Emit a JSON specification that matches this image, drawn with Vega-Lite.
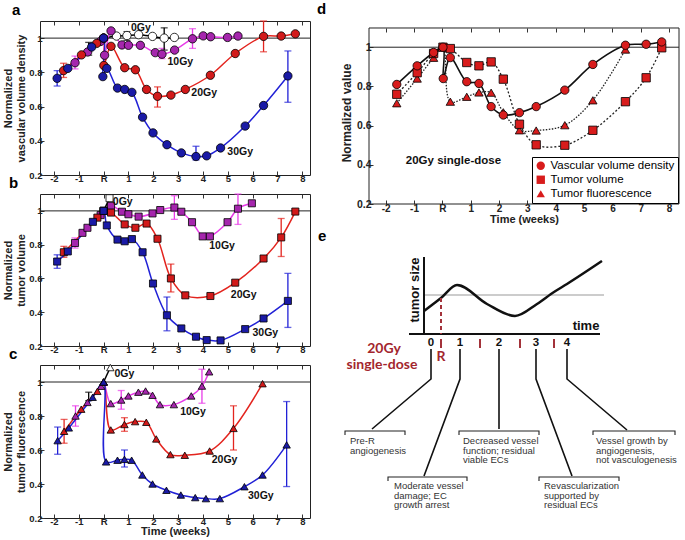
{
  "$schema": "https://vega.github.io/schema/vega-lite/v6.json",
  "padding": {"left": 2, "top": 2, "right": 0, "bottom": 0},
  "background": "white",
  "config": {
    "view": {"stroke": "#222", "strokeWidth": 1},
    "font": "Liberation Sans",
    "axis": {"labelFont": "Liberation Sans", "labelFontWeight": "bold", "labelFontSize": 9.5, "labelColor": "#222", "titleFont": "Liberation Sans", "titleFontWeight": "bold", "titleFontSize": 11, "titleColor": "#222", "tickColor": "#333", "grid": false, "domain": false, "tickSize": -4, "labelPadding": 2},
    "title": {"font": "Liberation Sans", "fontSize": 15, "fontWeight": "bold", "anchor": "start", "frame": "group", "color": "#000", "baseline": "alphabetic"}
  },
  "datasets": {
    "L": [
      {"p":"a","s":"0Gy","o":1,"x":0,"y":1.0},{"p":"a","s":"0Gy","o":2,"x":0.52,"y":1.012},{"p":"a","s":"0Gy","o":3,"x":0.94,"y":1.015},{"p":"a","s":"0Gy","o":4,"x":1.41,"y":1.02},{"p":"a","s":"0Gy","o":5,"x":1.97,"y":1.01},{"p":"a","s":"0Gy","o":6,"x":2.44,"y":1.0},{"p":"a","s":"0Gy","o":7,"x":2.85,"y":1.004},
      {"p":"a","s":"10Gy","o":1,"x":-1.15,"y":0.856},{"p":"a","s":"10Gy","o":2,"x":-0.64,"y":0.919},{"p":"a","s":"10Gy","o":3,"x":-0.13,"y":0.98},{"p":"a","s":"10Gy","o":4,"x":0,"y":1.0},{"p":"a","s":"10Gy","o":5,"x":0.04,"y":0.9},{"p":"a","s":"10Gy","o":6,"x":0.3,"y":1.042},{"p":"a","s":"10Gy","o":7,"x":0.74,"y":0.96},{"p":"a","s":"10Gy","o":8,"x":1.0,"y":0.958},{"p":"a","s":"10Gy","o":9,"x":1.48,"y":0.958},{"p":"a","s":"10Gy","o":10,"x":2.08,"y":0.915},{"p":"a","s":"10Gy","o":11,"x":2.35,"y":0.906},{"p":"a","s":"10Gy","o":12,"x":2.86,"y":0.93},{"p":"a","s":"10Gy","o":13,"x":3.58,"y":0.996},{"p":"a","s":"10Gy","o":14,"x":4.01,"y":1.013},{"p":"a","s":"10Gy","o":15,"x":4.31,"y":1.008},{"p":"a","s":"10Gy","o":16,"x":4.99,"y":1.004},{"p":"a","s":"10Gy","o":17,"x":5.41,"y":1.012},
      {"p":"a","s":"20Gy","o":1,"x":-1.61,"y":0.81},{"p":"a","s":"20Gy","o":2,"x":-0.89,"y":0.902},{"p":"a","s":"20Gy","o":3,"x":-0.28,"y":0.969},{"p":"a","s":"20Gy","o":4,"x":0,"y":1.0},{"p":"a","s":"20Gy","o":5,"x":0.01,"y":0.84},{"p":"a","s":"20Gy","o":6,"x":0.3,"y":0.952},{"p":"a","s":"20Gy","o":7,"x":0.85,"y":0.827},{"p":"a","s":"20Gy","o":8,"x":1.28,"y":0.815},{"p":"a","s":"20Gy","o":9,"x":1.73,"y":0.7},{"p":"a","s":"20Gy","o":10,"x":2.17,"y":0.66},{"p":"a","s":"20Gy","o":11,"x":2.71,"y":0.667},{"p":"a","s":"20Gy","o":12,"x":3.29,"y":0.7},{"p":"a","s":"20Gy","o":13,"x":4.3,"y":0.783},{"p":"a","s":"20Gy","o":14,"x":5.3,"y":0.91},{"p":"a","s":"20Gy","o":15,"x":6.44,"y":1.01},{"p":"a","s":"20Gy","o":16,"x":7.15,"y":1.012},{"p":"a","s":"20Gy","o":17,"x":7.72,"y":1.025},
      {"p":"a","s":"30Gy","o":1,"x":-1.87,"y":0.765},{"p":"a","s":"30Gy","o":2,"x":-1.44,"y":0.823},{"p":"a","s":"30Gy","o":3,"x":-0.48,"y":0.948},{"p":"a","s":"30Gy","o":4,"x":0,"y":1.0},{"p":"a","s":"30Gy","o":5,"x":-0.03,"y":0.775},{"p":"a","s":"30Gy","o":6,"x":0.13,"y":0.823},{"p":"a","s":"30Gy","o":7,"x":0.56,"y":0.708},{"p":"a","s":"30Gy","o":8,"x":0.85,"y":0.7},{"p":"a","s":"30Gy","o":9,"x":1.14,"y":0.683},{"p":"a","s":"30Gy","o":10,"x":1.57,"y":0.538},{"p":"a","s":"30Gy","o":11,"x":1.99,"y":0.446},{"p":"a","s":"30Gy","o":12,"x":2.55,"y":0.377},{"p":"a","s":"30Gy","o":13,"x":3.13,"y":0.329},{"p":"a","s":"30Gy","o":14,"x":3.72,"y":0.308},{"p":"a","s":"30Gy","o":15,"x":4.15,"y":0.312},{"p":"a","s":"30Gy","o":16,"x":4.71,"y":0.358},{"p":"a","s":"30Gy","o":17,"x":5.7,"y":0.486},{"p":"a","s":"30Gy","o":18,"x":6.44,"y":0.606},{"p":"a","s":"30Gy","o":19,"x":7.42,"y":0.779},

      {"p":"b","s":"0Gy","o":1,"x":0,"y":1.0},{"p":"b","s":"0Gy","o":2,"x":0.24,"y":1.075},
      {"p":"b","s":"10Gy","o":1,"x":-1.15,"y":0.81},{"p":"b","s":"10Gy","o":2,"x":-0.85,"y":0.87},{"p":"b","s":"10Gy","o":3,"x":-0.65,"y":0.9},{"p":"b","s":"10Gy","o":4,"x":-0.12,"y":0.975},{"p":"b","s":"10Gy","o":5,"x":0,"y":1.0},{"p":"b","s":"10Gy","o":6,"x":0.3,"y":1.03},{"p":"b","s":"10Gy","o":7,"x":0.74,"y":0.995},{"p":"b","s":"10Gy","o":8,"x":1.0,"y":0.98},{"p":"b","s":"10Gy","o":9,"x":1.41,"y":0.966},{"p":"b","s":"10Gy","o":10,"x":1.97,"y":0.985},{"p":"b","s":"10Gy","o":11,"x":2.28,"y":1.005},{"p":"b","s":"10Gy","o":12,"x":2.85,"y":1.02},{"p":"b","s":"10Gy","o":13,"x":3.13,"y":0.995},{"p":"b","s":"10Gy","o":14,"x":3.56,"y":0.933},{"p":"b","s":"10Gy","o":15,"x":3.99,"y":0.849},{"p":"b","s":"10Gy","o":16,"x":4.28,"y":0.849},{"p":"b","s":"10Gy","o":17,"x":4.99,"y":0.933},{"p":"b","s":"10Gy","o":18,"x":5.41,"y":1.013},{"p":"b","s":"10Gy","o":19,"x":5.97,"y":1.045},
      {"p":"b","s":"20Gy","o":1,"x":-1.6,"y":0.755},{"p":"b","s":"20Gy","o":2,"x":-0.25,"y":0.96},{"p":"b","s":"20Gy","o":3,"x":0,"y":1.0},{"p":"b","s":"20Gy","o":4,"x":0.3,"y":0.99},{"p":"b","s":"20Gy","o":5,"x":0.85,"y":0.92},{"p":"b","s":"20Gy","o":6,"x":1.28,"y":0.9},{"p":"b","s":"20Gy","o":7,"x":1.73,"y":0.925},{"p":"b","s":"20Gy","o":8,"x":2.17,"y":0.835},{"p":"b","s":"20Gy","o":9,"x":2.71,"y":0.6},{"p":"b","s":"20Gy","o":10,"x":3.29,"y":0.5},{"p":"b","s":"20Gy","o":11,"x":4.3,"y":0.496},{"p":"b","s":"20Gy","o":12,"x":5.3,"y":0.575},{"p":"b","s":"20Gy","o":13,"x":6.44,"y":0.718},{"p":"b","s":"20Gy","o":14,"x":7.15,"y":0.843},{"p":"b","s":"20Gy","o":15,"x":7.72,"y":0.996},
      {"p":"b","s":"30Gy","o":1,"x":-1.87,"y":0.7},{"p":"b","s":"30Gy","o":2,"x":-1.44,"y":0.76},{"p":"b","s":"30Gy","o":3,"x":-0.43,"y":0.935},{"p":"b","s":"30Gy","o":4,"x":0,"y":1.0},{"p":"b","s":"30Gy","o":5,"x":0.13,"y":0.914},{"p":"b","s":"30Gy","o":6,"x":0.56,"y":0.83},{"p":"b","s":"30Gy","o":7,"x":0.85,"y":0.82},{"p":"b","s":"30Gy","o":8,"x":1.14,"y":0.833},{"p":"b","s":"30Gy","o":9,"x":1.57,"y":0.755},{"p":"b","s":"30Gy","o":10,"x":1.99,"y":0.57},{"p":"b","s":"30Gy","o":11,"x":2.55,"y":0.382},{"p":"b","s":"30Gy","o":12,"x":3.13,"y":0.304},{"p":"b","s":"30Gy","o":13,"x":3.72,"y":0.255},{"p":"b","s":"30Gy","o":14,"x":4.15,"y":0.235},{"p":"b","s":"30Gy","o":15,"x":4.71,"y":0.233},{"p":"b","s":"30Gy","o":16,"x":5.7,"y":0.3},{"p":"b","s":"30Gy","o":17,"x":6.44,"y":0.363},{"p":"b","s":"30Gy","o":18,"x":7.42,"y":0.467},

      {"p":"c","s":"0Gy","o":1,"x":0,"y":1.0},{"p":"c","s":"0Gy","o":2,"x":0.27,"y":1.085},
      {"p":"c","s":"10Gy","o":1,"x":-1.13,"y":0.8},{"p":"c","s":"10Gy","o":2,"x":-0.65,"y":0.88},{"p":"c","s":"10Gy","o":3,"x":-0.1,"y":0.975},{"p":"c","s":"10Gy","o":4,"x":0,"y":1.0},{"p":"c","s":"10Gy","o":5,"x":0.29,"y":0.873},{"p":"c","s":"10Gy","o":6,"x":0.71,"y":0.894},{"p":"c","s":"10Gy","o":7,"x":1.0,"y":0.918},{"p":"c","s":"10Gy","o":8,"x":1.4,"y":0.94},{"p":"c","s":"10Gy","o":9,"x":1.69,"y":0.947},{"p":"c","s":"10Gy","o":10,"x":1.97,"y":0.922},{"p":"c","s":"10Gy","o":11,"x":2.27,"y":0.867},{"p":"c","s":"10Gy","o":12,"x":2.83,"y":0.867},{"p":"c","s":"10Gy","o":13,"x":3.53,"y":0.918},{"p":"c","s":"10Gy","o":14,"x":3.96,"y":0.976},{"p":"c","s":"10Gy","o":15,"x":4.25,"y":1.06},
      {"p":"c","s":"20Gy","o":1,"x":-1.59,"y":0.71},{"p":"c","s":"20Gy","o":2,"x":-0.9,"y":0.84},{"p":"c","s":"20Gy","o":3,"x":-0.25,"y":0.945},{"p":"c","s":"20Gy","o":4,"x":0,"y":1.0},{"p":"c","s":"20Gy","o":5,"x":0.29,"y":0.718},{"p":"c","s":"20Gy","o":6,"x":0.84,"y":0.75},{"p":"c","s":"20Gy","o":7,"x":1.27,"y":0.767},{"p":"c","s":"20Gy","o":8,"x":1.72,"y":0.763},{"p":"c","s":"20Gy","o":9,"x":2.12,"y":0.665},{"p":"c","s":"20Gy","o":10,"x":2.69,"y":0.573},{"p":"c","s":"20Gy","o":11,"x":3.27,"y":0.569},{"p":"c","s":"20Gy","o":12,"x":4.27,"y":0.594},{"p":"c","s":"20Gy","o":13,"x":5.23,"y":0.727},{"p":"c","s":"20Gy","o":14,"x":6.4,"y":0.99},
      {"p":"c","s":"30Gy","o":1,"x":-1.85,"y":0.655},{"p":"c","s":"30Gy","o":2,"x":-1.4,"y":0.73},{"p":"c","s":"30Gy","o":3,"x":-0.44,"y":0.91},{"p":"c","s":"30Gy","o":4,"x":0,"y":1.0},{"p":"c","s":"30Gy","o":5,"x":0.1,"y":0.53},{"p":"c","s":"30Gy","o":6,"x":0.56,"y":0.54},{"p":"c","s":"30Gy","o":7,"x":0.84,"y":0.545},{"p":"c","s":"30Gy","o":8,"x":1.13,"y":0.54},{"p":"c","s":"30Gy","o":9,"x":1.56,"y":0.453},{"p":"c","s":"30Gy","o":10,"x":1.97,"y":0.4},{"p":"c","s":"30Gy","o":11,"x":2.53,"y":0.363},{"p":"c","s":"30Gy","o":12,"x":3.11,"y":0.335},{"p":"c","s":"30Gy","o":13,"x":3.69,"y":0.32},{"p":"c","s":"30Gy","o":14,"x":4.12,"y":0.314},{"p":"c","s":"30Gy","o":15,"x":4.68,"y":0.314},{"p":"c","s":"30Gy","o":16,"x":5.67,"y":0.384},{"p":"c","s":"30Gy","o":17,"x":6.4,"y":0.453},{"p":"c","s":"30Gy","o":18,"x":7.37,"y":0.63}
    ],
    "E": [
      {"p":"a","s":"0Gy","x":-0.6,"lo":0.9,"hi":0.975},{"p":"a","s":"0Gy","x":0.94,"lo":0.987,"hi":1.038},{"p":"a","s":"0Gy","x":2.44,"lo":0.93,"hi":1.06},
      {"p":"a","s":"10Gy","x":-1.15,"lo":0.82,"hi":0.895},{"p":"a","s":"10Gy","x":2.35,"lo":0.88,"hi":0.94},{"p":"a","s":"10Gy","x":3.58,"lo":0.94,"hi":1.055},
      {"p":"a","s":"20Gy","x":-1.61,"lo":0.77,"hi":0.853},{"p":"a","s":"20Gy","x":2.17,"lo":0.597,"hi":0.715},{"p":"a","s":"20Gy","x":6.44,"lo":0.92,"hi":1.1},
      {"p":"a","s":"30Gy","x":-1.87,"lo":0.72,"hi":0.81},{"p":"a","s":"30Gy","x":3.72,"lo":0.288,"hi":0.368},{"p":"a","s":"30Gy","x":7.42,"lo":0.625,"hi":0.925},
      {"p":"b","s":"10Gy","x":-1.15,"lo":0.78,"hi":0.84},{"p":"b","s":"10Gy","x":2.85,"lo":0.95,"hi":1.09},{"p":"b","s":"10Gy","x":5.41,"lo":0.92,"hi":1.1},
      {"p":"b","s":"20Gy","x":-1.6,"lo":0.725,"hi":0.79},{"p":"b","s":"20Gy","x":2.71,"lo":0.52,"hi":0.685},{"p":"b","s":"20Gy","x":7.15,"lo":0.73,"hi":0.955},
      {"p":"b","s":"30Gy","x":-1.87,"lo":0.66,"hi":0.74},{"p":"b","s":"30Gy","x":2.55,"lo":0.29,"hi":0.49},{"p":"b","s":"30Gy","x":7.42,"lo":0.31,"hi":0.63},
      {"p":"c","s":"0Gy","x":-0.6,"lo":0.89,"hi":0.94},
      {"p":"c","s":"10Gy","x":-1.13,"lo":0.74,"hi":0.86},{"p":"c","s":"10Gy","x":0.71,"lo":0.84,"hi":0.95},{"p":"c","s":"10Gy","x":3.96,"lo":0.875,"hi":1.075},
      {"p":"c","s":"20Gy","x":-1.59,"lo":0.64,"hi":0.78},{"p":"c","s":"20Gy","x":0.84,"lo":0.71,"hi":0.79},{"p":"c","s":"20Gy","x":5.23,"lo":0.6,"hi":0.86},
      {"p":"c","s":"30Gy","x":-1.85,"lo":0.575,"hi":0.735},{"p":"c","s":"30Gy","x":0.84,"lo":0.5,"hi":0.6},{"p":"c","s":"30Gy","x":7.37,"lo":0.385,"hi":0.885}
    ],
    "T": [
      {"p":"a","t":"0Gy","x":1.5,"y":1.058},{"p":"a","t":"10Gy","x":3.09,"y":0.862},{"p":"a","t":"20Gy","x":4.05,"y":0.679},{"p":"a","t":"30Gy","x":5.5,"y":0.333},
      {"p":"b","t":"0Gy","x":0.77,"y":1.05},{"p":"b","t":"10Gy","x":4.77,"y":0.794},{"p":"b","t":"20Gy","x":5.64,"y":0.502},{"p":"b","t":"30Gy","x":6.51,"y":0.275},
      {"p":"c","t":"0Gy","x":0.84,"y":1.05},{"p":"c","t":"10Gy","x":3.6,"y":0.824},{"p":"c","t":"20Gy","x":4.87,"y":0.54},{"p":"c","t":"30Gy","x":6.33,"y":0.33},
      {"p":"d","t":"20Gy single-dose","x":0.39,"y":0.417}
    ],
    "D": [
      {"s":"Tumor fluorescence","o":1,"x":-1.61,"y":0.714},{"s":"Tumor fluorescence","o":2,"x":-0.89,"y":0.84},{"s":"Tumor fluorescence","o":3,"x":-0.31,"y":0.946},{"s":"Tumor fluorescence","o":4,"x":0.02,"y":1.0},{"s":"Tumor fluorescence","o":5,"x":0.28,"y":0.722},{"s":"Tumor fluorescence","o":6,"x":0.86,"y":0.747},{"s":"Tumor fluorescence","o":7,"x":1.29,"y":0.769},{"s":"Tumor fluorescence","o":8,"x":1.72,"y":0.768},{"s":"Tumor fluorescence","o":9,"x":2.15,"y":0.668},{"s":"Tumor fluorescence","o":10,"x":2.72,"y":0.576},{"s":"Tumor fluorescence","o":11,"x":3.31,"y":0.575},{"s":"Tumor fluorescence","o":12,"x":4.32,"y":0.602},{"s":"Tumor fluorescence","o":13,"x":5.31,"y":0.729},{"s":"Tumor fluorescence","o":14,"x":6.46,"y":0.988},
      {"s":"Tumor volume","o":1,"x":-1.61,"y":0.76},{"s":"Tumor volume","o":2,"x":-0.89,"y":0.87},{"s":"Tumor volume","o":3,"x":-0.31,"y":0.968},{"s":"Tumor volume","o":4,"x":0.02,"y":1.0},{"s":"Tumor volume","o":5,"x":0.28,"y":0.993},{"s":"Tumor volume","o":6,"x":0.86,"y":0.922},{"s":"Tumor volume","o":7,"x":1.29,"y":0.905},{"s":"Tumor volume","o":8,"x":1.72,"y":0.925},{"s":"Tumor volume","o":9,"x":2.15,"y":0.837},{"s":"Tumor volume","o":10,"x":2.72,"y":0.607},{"s":"Tumor volume","o":11,"x":3.31,"y":0.502},{"s":"Tumor volume","o":12,"x":4.32,"y":0.5},{"s":"Tumor volume","o":13,"x":5.31,"y":0.576},{"s":"Tumor volume","o":14,"x":6.46,"y":0.722},{"s":"Tumor volume","o":15,"x":7.19,"y":0.844},{"s":"Tumor volume","o":16,"x":7.74,"y":0.997},
      {"s":"Vascular volume density","o":1,"x":-1.61,"y":0.81},{"s":"Vascular volume density","o":2,"x":-0.89,"y":0.905},{"s":"Vascular volume density","o":3,"x":-0.31,"y":0.973},{"s":"Vascular volume density","o":4,"x":0.02,"y":1.0},{"s":"Vascular volume density","o":5,"x":0.03,"y":0.84},{"s":"Vascular volume density","o":6,"x":0.28,"y":0.947},{"s":"Vascular volume density","o":7,"x":0.86,"y":0.824},{"s":"Vascular volume density","o":8,"x":1.29,"y":0.815},{"s":"Vascular volume density","o":9,"x":1.72,"y":0.697},{"s":"Vascular volume density","o":10,"x":2.15,"y":0.654},{"s":"Vascular volume density","o":11,"x":2.72,"y":0.666},{"s":"Vascular volume density","o":12,"x":3.31,"y":0.697},{"s":"Vascular volume density","o":13,"x":4.32,"y":0.781},{"s":"Vascular volume density","o":14,"x":5.31,"y":0.912},{"s":"Vascular volume density","o":15,"x":6.46,"y":1.01},{"s":"Vascular volume density","o":16,"x":7.19,"y":1.015},{"s":"Vascular volume density","o":17,"x":7.74,"y":1.027}
    ],
    "S": [
      {"k":"gray","g":"h","o":1,"x":87,"y":63},{"k":"gray","g":"h","o":2,"x":267,"y":63},
      {"k":"ax","g":"ya","o":1,"x":87,"y":25},{"k":"ax","g":"ya","o":2,"x":87,"y":102},
      {"k":"ax","g":"xa","o":1,"x":72,"y":102},{"k":"ax","g":"xa","o":2,"x":263,"y":102},
      {"k":"curve","g":"c","o":1,"x":87,"y":79},{"k":"curve","g":"c","o":2,"x":104,"y":66},{"k":"curve","g":"c","o":3,"x":120,"y":53},{"k":"curve","g":"c","o":4,"x":150,"y":72},{"k":"curve","g":"c","o":5,"x":178,"y":84},{"k":"curve","g":"c","o":6,"x":200,"y":72},{"k":"curve","g":"c","o":7,"x":217,"y":60},{"k":"curve","g":"c","o":8,"x":230,"y":52},{"k":"curve","g":"c","o":9,"x":265,"y":29},
      {"k":"rdash","g":"r","o":1,"x":104,"y":66},{"k":"rdash","g":"r","o":2,"x":104,"y":102},
      {"k":"rtick","g":"t1","o":1,"x":104,"y":107},{"k":"rtick","g":"t1","o":2,"x":104,"y":116},
      {"k":"rtick","g":"t2","o":1,"x":143,"y":107},{"k":"rtick","g":"t2","o":2,"x":143,"y":116},
      {"k":"rtick","g":"t3","o":1,"x":183,"y":107},{"k":"rtick","g":"t3","o":2,"x":183,"y":116},
      {"k":"rtick","g":"t4","o":1,"x":217,"y":107},{"k":"rtick","g":"t4","o":2,"x":217,"y":116},
      {"k":"call","g":"c0","o":1,"x":94,"y":117},{"k":"call","g":"c0","o":2,"x":94,"y":147},{"k":"call","g":"c0","o":3,"x":35,"y":197},
      {"k":"call","g":"c1","o":1,"x":123,"y":117},{"k":"call","g":"c1","o":2,"x":123,"y":147},{"k":"call","g":"c1","o":3,"x":87,"y":244},
      {"k":"call","g":"c2","o":1,"x":162,"y":117},{"k":"call","g":"c2","o":2,"x":162,"y":197},
      {"k":"call","g":"c3","o":1,"x":199,"y":117},{"k":"call","g":"c3","o":2,"x":199,"y":147},{"k":"call","g":"c3","o":3,"x":235,"y":244},
      {"k":"call","g":"c4","o":1,"x":230,"y":117},{"k":"call","g":"c4","o":2,"x":230,"y":147},{"k":"call","g":"c4","o":3,"x":290,"y":198},
      {"k":"brk","g":"b0","o":1,"x":8,"y":203},{"k":"brk","g":"b0","o":2,"x":8,"y":199},{"k":"brk","g":"b0","o":3,"x":68,"y":199},{"k":"brk","g":"b0","o":4,"x":68,"y":203},
      {"k":"brk","g":"b1","o":1,"x":51,"y":249},{"k":"brk","g":"b1","o":2,"x":51,"y":245},{"k":"brk","g":"b1","o":3,"x":130,"y":245},{"k":"brk","g":"b1","o":4,"x":130,"y":249},
      {"k":"brk","g":"b2","o":1,"x":122,"y":203},{"k":"brk","g":"b2","o":2,"x":122,"y":199},{"k":"brk","g":"b2","o":3,"x":202,"y":199},{"k":"brk","g":"b2","o":4,"x":202,"y":203},
      {"k":"brk","g":"b3","o":1,"x":202,"y":249},{"k":"brk","g":"b3","o":2,"x":202,"y":245},{"k":"brk","g":"b3","o":3,"x":282,"y":245},{"k":"brk","g":"b3","o":4,"x":282,"y":249},
      {"k":"brk","g":"b4","o":1,"x":256,"y":203},{"k":"brk","g":"b4","o":2,"x":256,"y":199},{"k":"brk","g":"b4","o":3,"x":338,"y":199},{"k":"brk","g":"b4","o":4,"x":338,"y":203}
    ],
    "ET": [
      {"k":"num","t":"0","x":94,"y":111},{"k":"num","t":"1","x":123,"y":111},{"k":"num","t":"2","x":162,"y":111},{"k":"num","t":"3","x":199,"y":111},{"k":"num","t":"4","x":230,"y":111},
      {"k":"red","t":"R","x":104,"y":125},{"k":"red","t":"20Gy","x":47,"y":117},{"k":"red","t":"single-dose","x":45,"y":133},
      {"k":"axl","t":"time","x":249,"y":94},
      {"k":"note","t":"Pre-R\nangiogenesis","x":13,"y":204},
      {"k":"note","t":"Moderate vessel\ndamage; EC\ngrowth arrest","x":57,"y":249},
      {"k":"note","t":"Decreased vessel\nfunction; residual\nviable ECs","x":126,"y":204},
      {"k":"note","t":"Revascularization\nsupported by\nresidual ECs","x":207,"y":249},
      {"k":"note","t":"Vessel growth by\nangiogenesis,\nnot vasculogenesis","x":259,"y":204},
      {"k":"lab","t":"e","x":-19,"y":9}
    ]
  },
  "hconcat": [
    {
      "vconcat": [
        {
          "title": {"text": "a", "dx": -28, "offset": 2},
          "width": 270, "height": 154,
          "encoding": {
            "y": {"field": "y", "type": "quantitative", "scale": {"domain": [0.2, 1.1], "nice": false, "zero": false},
                  "axis": {"values": [0.2,0.4,0.6,0.8,1], "labelExpr": "datum.value==1?'1':format(datum.value,'.1f')", "title": ["Normalized", "vascular volume density"], "titlePadding": 2}}
          },
          "resolve": {"axis": {"x": "independent"}},
          "layer": [
            {"data": {"values": [{"x": -3, "y": 1}, {"x": 9, "y": 1}]}, "mark": {"type": "line", "color": "#222", "strokeWidth": 1, "clip": true},
             "encoding": {"x": {"field": "x", "type": "quantitative", "scale": {"domain": [-2.56, 8.31], "nice": false, "zero": false}, "axis": {"orient": "bottom", "values": [-2,-1,0,1,2,3,4,5,6,7,8], "labelExpr": "datum.value==0?'R':''+datum.value", "title": null}}}},
            {"data": {"name": "E"}, "transform": [{"filter": "datum.p=='a'"}], "mark": {"type": "errorbar", "ticks": {"size": 7}, "thickness": 1.3},
             "encoding": {"x": {"field": "x", "type": "quantitative", "axis": null}, "y": {"field": "lo", "type": "quantitative"}, "y2": {"field": "hi"}, "color": {"field": "s", "type": "nominal", "scale": {"domain": ["0Gy","10Gy","20Gy","30Gy"], "range": ["#000000","#e83ce8","#e3241e","#2121d6"]}, "legend": null}}},
            {"data": {"name": "L"}, "transform": [{"filter": "datum.p=='a'"}], "mark": {"type": "line", "interpolate": "catmull-rom", "strokeWidth": 1.5},
             "encoding": {"x": {"field": "x", "type": "quantitative", "axis": null}, "order": {"field": "o"}, "color": {"field": "s", "type": "nominal", "scale": {"domain": ["0Gy","10Gy","20Gy","30Gy"], "range": ["#000000","#e83ce8","#e3241e","#2121d6"]}, "legend": null}}},
            {"data": {"name": "L"}, "transform": [{"filter": "datum.p=='a'"}], "mark": {"type": "point", "shape": "circle", "filled": true, "size": 70, "stroke": "#000", "strokeWidth": 0.8, "opacity": 1},
             "encoding": {"x": {"field": "x", "type": "quantitative", "axis": null}, "fill": {"field": "s", "type": "nominal", "scale": {"domain": ["0Gy","10Gy","20Gy","30Gy"], "range": ["#ffffff","#a526ad","#d21a1a","#1a1aa6"]}, "legend": null}}},
            {"data": {"name": "T"}, "transform": [{"filter": "datum.p=='a'"}], "mark": {"type": "text", "fontWeight": "bold", "fontSize": 10.5, "color": "#111"},
             "encoding": {"x": {"field": "x", "type": "quantitative", "axis": {"orient": "top", "values": [-2,-1,0,1,2,3,4,5,6,7,8], "labels": false, "title": null}}, "text": {"field": "t"}}}
          ]
        },
        {
          "title": {"text": "b", "dx": -31, "offset": 2},
          "width": 270, "height": 152,
          "encoding": {
            "y": {"field": "y", "type": "quantitative", "scale": {"domain": [0.2, 1.1], "nice": false, "zero": false},
                  "axis": {"values": [0.2,0.4,0.6,0.8,1], "labelExpr": "datum.value==1?'1':format(datum.value,'.1f')", "title": ["Normalized", "tumor volume"], "titlePadding": 2}}
          },
          "resolve": {"axis": {"x": "independent"}},
          "layer": [
            {"data": {"values": [{"x": -3, "y": 1}, {"x": 9, "y": 1}]}, "mark": {"type": "line", "color": "#222", "strokeWidth": 1, "clip": true},
             "encoding": {"x": {"field": "x", "type": "quantitative", "scale": {"domain": [-2.56, 8.31], "nice": false, "zero": false}, "axis": {"orient": "bottom", "values": [-2,-1,0,1,2,3,4,5,6,7,8], "labelExpr": "datum.value==0?'R':''+datum.value", "title": null}}}},
            {"data": {"name": "E"}, "transform": [{"filter": "datum.p=='b'"}], "mark": {"type": "errorbar", "ticks": {"size": 7}, "thickness": 1.3},
             "encoding": {"x": {"field": "x", "type": "quantitative", "axis": null}, "y": {"field": "lo", "type": "quantitative"}, "y2": {"field": "hi"}, "color": {"field": "s", "type": "nominal", "scale": {"domain": ["0Gy","10Gy","20Gy","30Gy"], "range": ["#000000","#e83ce8","#e3241e","#2121d6"]}, "legend": null}}},
            {"data": {"name": "L"}, "transform": [{"filter": "datum.p=='b'"}], "mark": {"type": "line", "interpolate": "catmull-rom", "strokeWidth": 1.5},
             "encoding": {"x": {"field": "x", "type": "quantitative", "axis": null}, "order": {"field": "o"}, "color": {"field": "s", "type": "nominal", "scale": {"domain": ["0Gy","10Gy","20Gy","30Gy"], "range": ["#000000","#e83ce8","#e3241e","#2121d6"]}, "legend": null}}},
            {"data": {"name": "L"}, "transform": [{"filter": "datum.p=='b'"}], "mark": {"type": "point", "shape": "square", "filled": true, "size": 50, "stroke": "#000", "strokeWidth": 0.8, "opacity": 1},
             "encoding": {"x": {"field": "x", "type": "quantitative", "axis": null}, "fill": {"field": "s", "type": "nominal", "scale": {"domain": ["0Gy","10Gy","20Gy","30Gy"], "range": ["#ffffff","#a526ad","#d21a1a","#1a1aa6"]}, "legend": null}}},
            {"data": {"name": "T"}, "transform": [{"filter": "datum.p=='b'"}], "mark": {"type": "text", "fontWeight": "bold", "fontSize": 10.5, "color": "#111"},
             "encoding": {"x": {"field": "x", "type": "quantitative", "axis": {"orient": "top", "values": [-2,-1,0,1,2,3,4,5,6,7,8], "labels": false, "title": null}}, "text": {"field": "t"}}}
          ]
        },
        {
          "title": {"text": "c", "dx": -31, "offset": 1},
          "width": 270, "height": 153,
          "encoding": {
            "y": {"field": "y", "type": "quantitative", "scale": {"domain": [0.2, 1.1], "nice": false, "zero": false},
                  "axis": {"values": [0.2,0.4,0.6,0.8,1], "labelExpr": "datum.value==1?'1':format(datum.value,'.1f')", "title": ["Normalized", "tumor fluorescence"], "titlePadding": 2}}
          },
          "resolve": {"axis": {"x": "independent"}},
          "layer": [
            {"data": {"values": [{"x": -3, "y": 1}, {"x": 9, "y": 1}]}, "mark": {"type": "line", "color": "#222", "strokeWidth": 1, "clip": true},
             "encoding": {"x": {"field": "x", "type": "quantitative", "scale": {"domain": [-2.56, 8.31], "nice": false, "zero": false}, "axis": {"orient": "bottom", "values": [-2,-1,0,1,2,3,4,5,6,7,8], "labelExpr": "datum.value==0?'R':''+datum.value", "title": "Time (weeks)", "titlePadding": 0}}}},
            {"data": {"name": "E"}, "transform": [{"filter": "datum.p=='c'"}], "mark": {"type": "errorbar", "ticks": {"size": 7}, "thickness": 1.3},
             "encoding": {"x": {"field": "x", "type": "quantitative", "axis": null}, "y": {"field": "lo", "type": "quantitative"}, "y2": {"field": "hi"}, "color": {"field": "s", "type": "nominal", "scale": {"domain": ["0Gy","10Gy","20Gy","30Gy"], "range": ["#000000","#e83ce8","#e3241e","#2121d6"]}, "legend": null}}},
            {"data": {"name": "L"}, "transform": [{"filter": "datum.p=='c'"}], "mark": {"type": "line", "interpolate": "catmull-rom", "strokeWidth": 1.5},
             "encoding": {"x": {"field": "x", "type": "quantitative", "axis": null}, "order": {"field": "o"}, "color": {"field": "s", "type": "nominal", "scale": {"domain": ["0Gy","10Gy","20Gy","30Gy"], "range": ["#000000","#e83ce8","#e3241e","#2121d6"]}, "legend": null}}},
            {"data": {"name": "L"}, "transform": [{"filter": "datum.p=='c'"}], "mark": {"type": "point", "shape": "triangle-up", "filled": true, "size": 55, "stroke": "#000", "strokeWidth": 0.8, "opacity": 1},
             "encoding": {"x": {"field": "x", "type": "quantitative", "axis": null}, "fill": {"field": "s", "type": "nominal", "scale": {"domain": ["0Gy","10Gy","20Gy","30Gy"], "range": ["#ffffff","#a526ad","#d21a1a","#1a1aa6"]}, "legend": null}}},
            {"data": {"name": "T"}, "transform": [{"filter": "datum.p=='c'"}], "mark": {"type": "text", "fontWeight": "bold", "fontSize": 10.5, "color": "#111"},
             "encoding": {"x": {"field": "x", "type": "quantitative", "axis": {"orient": "top", "values": [-2,-1,0,1,2,3,4,5,6,7,8], "labels": false, "title": null}}, "text": {"field": "t"}}}
          ]
        }
      ],
      "spacing": 19,
      "bounds": "flush",
      "resolve": {"scale": {"x": "independent", "y": "independent", "color": "independent", "fill": "independent"}}
    },
    {
      "vconcat": [
        {
          "title": {"text": "d", "dx": -52, "offset": 4},
          "width": 310, "height": 183,
          "view": {"stroke": null},
          "encoding": {
            "y": {"field": "y", "type": "quantitative", "scale": {"domain": [0.2, 1.1337], "nice": false, "zero": false},
                  "axis": {"values": [0.2,0.4,0.6,0.8,1], "labelExpr": "datum.value==1?'1':format(datum.value,'.1f')", "title": "Normalized value", "titleFontSize": 12, "labelFontSize": 10.5, "titlePadding": 3}}
          },
          "resolve": {"axis": {"x": "independent"}},
          "layer": [
            {"data": {"values": [{"x": -2.59, "x2": 8.35, "y": 0.2, "y2": 1.098}]}, "mark": {"type": "rect", "filled": false, "color": "#222", "strokeWidth": 1},
             "encoding": {"x": {"field": "x", "type": "quantitative", "axis": null}, "x2": {"field": "x2"}, "y2": {"field": "y2"}}},
            {"data": {"values": [{"x": -3, "y": 1}, {"x": 9, "y": 1}]}, "mark": {"type": "line", "color": "#222", "strokeWidth": 1, "clip": true},
             "encoding": {"x": {"field": "x", "type": "quantitative", "scale": {"domain": [-2.59, 8.35], "nice": false, "zero": false}, "axis": {"orient": "bottom", "values": [-2,-1,0,1,2,3,4,5,6,7,8], "labelExpr": "datum.value==0?'R':''+datum.value", "title": "Time (weeks)", "titlePadding": 0, "labelPadding": 3, "labelFontSize": 10}}}},
            {"data": {"name": "D"}, "transform": [{"filter": "datum.s=='Tumor fluorescence'"}], "mark": {"type": "line", "interpolate": "catmull-rom", "strokeWidth": 1.3, "color": "#222", "strokeDash": [1.5, 1.5]},
             "encoding": {"x": {"field": "x", "type": "quantitative", "axis": null}, "order": {"field": "o"}}},
            {"data": {"name": "D"}, "transform": [{"filter": "datum.s=='Tumor volume'"}], "mark": {"type": "line", "interpolate": "catmull-rom", "strokeWidth": 1.3, "color": "#222", "strokeDash": [2, 2]},
             "encoding": {"x": {"field": "x", "type": "quantitative", "axis": null}, "order": {"field": "o"}}},
            {"data": {"name": "D"}, "transform": [{"filter": "datum.s=='Vascular volume density'"}], "mark": {"type": "line", "interpolate": "catmull-rom", "strokeWidth": 1.6, "color": "#111"},
             "encoding": {"x": {"field": "x", "type": "quantitative", "axis": null}, "order": {"field": "o"}}},
            {"data": {"name": "D"}, "mark": {"type": "point", "filled": true, "size": 70, "fill": "#d81c1c", "stroke": "#000", "strokeWidth": 0.8, "opacity": 1},
             "encoding": {"x": {"field": "x", "type": "quantitative", "axis": null}, "shape": {"field": "s", "type": "nominal",
               "scale": {"domain": ["Vascular volume density", "Tumor volume", "Tumor fluorescence"], "range": ["circle", "square", "triangle-up"]},
               "legend": {"orient": "bottom-right", "title": null, "strokeColor": "#000", "fillColor": "#fff", "padding": 3, "offset": 1, "labelFont": "Liberation Sans", "labelFontSize": 11.5, "labelColor": "#000", "symbolFillColor": "#d81c1c", "symbolStrokeColor": "#000", "symbolStrokeWidth": 0.8, "symbolSize": 70, "rowPadding": 1, "cornerRadius": 0}}}},
            {"data": {"name": "T"}, "transform": [{"filter": "datum.p=='d'"}], "mark": {"type": "text", "fontWeight": "bold", "fontSize": 11.5, "color": "#111"},
             "encoding": {"x": {"field": "x", "type": "quantitative", "axis": {"orient": "top", "offset": -7, "values": [-2,-1,0,1,2,3,4,5,6,7,8], "labels": false, "title": null}}, "text": {"field": "t"}}}
          ]
        },
        {
          "width": 310, "height": 280,
          "view": {"stroke": null},
          "encoding": {
            "x": {"field": "x", "type": "quantitative", "scale": {"domain": [32, 342], "nice": false, "zero": false}, "axis": null},
            "y": {"field": "y", "type": "quantitative", "scale": {"domain": [0, 280], "reverse": true, "nice": false, "zero": false}, "axis": null}
          },
          "layer": [
            {"data": {"name": "S"}, "transform": [{"filter": "datum.k=='gray'"}], "mark": {"type": "line", "color": "#999", "strokeWidth": 1.2}, "encoding": {"detail": {"field": "g"}, "order": {"field": "o"}}},
            {"data": {"name": "S"}, "transform": [{"filter": "datum.k=='ax'"}], "mark": {"type": "line", "color": "#111", "strokeWidth": 2}, "encoding": {"detail": {"field": "g"}, "order": {"field": "o"}}},
            {"data": {"name": "S"}, "transform": [{"filter": "datum.k=='curve'"}], "mark": {"type": "line", "color": "#111", "strokeWidth": 2.5, "interpolate": "monotone"}, "encoding": {"order": {"field": "o"}}},
            {"data": {"name": "S"}, "transform": [{"filter": "datum.k=='rdash'"}], "mark": {"type": "line", "color": "#a3323a", "strokeWidth": 2, "strokeDash": [4, 3]}, "encoding": {"order": {"field": "o"}}},
            {"data": {"name": "S"}, "transform": [{"filter": "datum.k=='rtick'"}], "mark": {"type": "line", "color": "#a3323a", "strokeWidth": 2}, "encoding": {"detail": {"field": "g"}, "order": {"field": "o"}}},
            {"data": {"name": "S"}, "transform": [{"filter": "datum.k=='call'"}], "mark": {"type": "line", "color": "#111", "strokeWidth": 1.6}, "encoding": {"detail": {"field": "g"}, "order": {"field": "o"}}},
            {"data": {"name": "S"}, "transform": [{"filter": "datum.k=='brk'"}], "mark": {"type": "line", "color": "#222", "strokeWidth": 1.1}, "encoding": {"detail": {"field": "g"}, "order": {"field": "o"}}},
            {"data": {"name": "ET"}, "transform": [{"filter": "datum.k=='num'"}], "mark": {"type": "text", "fontWeight": "bold", "fontSize": 11.5, "color": "#111"}, "encoding": {"text": {"field": "t"}}},
            {"data": {"name": "ET"}, "transform": [{"filter": "datum.k=='red'"}], "mark": {"type": "text", "font": "Lato", "fontWeight": "bold", "fontSize": 14, "color": "#a3262e"}, "encoding": {"text": {"field": "t"}}},
            {"data": {"name": "ET"}, "transform": [{"filter": "datum.k=='axl'"}], "mark": {"type": "text", "fontWeight": "bold", "fontSize": 13, "color": "#111"}, "encoding": {"text": {"field": "t"}}},
            {"data": {"values": [{"t": "tumor size", "x": 78, "y": 58}]}, "mark": {"type": "text", "fontWeight": "bold", "fontSize": 13, "color": "#111", "angle": 270}, "encoding": {"text": {"field": "t"}}},
            {"data": {"name": "ET"}, "transform": [{"filter": "datum.k=='note'"}], "mark": {"type": "text", "fontSize": 9.5, "color": "#333", "align": "left", "baseline": "top", "lineBreak": "\n", "lineHeight": 9.5}, "encoding": {"text": {"field": "t"}}},
            {"data": {"name": "ET"}, "transform": [{"filter": "datum.k=='lab'"}], "mark": {"type": "text", "fontWeight": "bold", "fontSize": 15, "color": "#000", "align": "left", "baseline": "alphabetic"}, "encoding": {"text": {"field": "t"}}}
          ]
        }
      ],
      "spacing": 28,
      "bounds": "flush",
      "resolve": {"scale": {"x": "independent", "y": "independent", "shape": "independent"}, "legend": {"shape": "independent"}}
    }
  ],
  "spacing": 6,
  "resolve": {"scale": {"x": "independent", "y": "independent", "color": "independent", "fill": "independent", "shape": "independent"}, "legend": {"shape": "independent"}}
}
